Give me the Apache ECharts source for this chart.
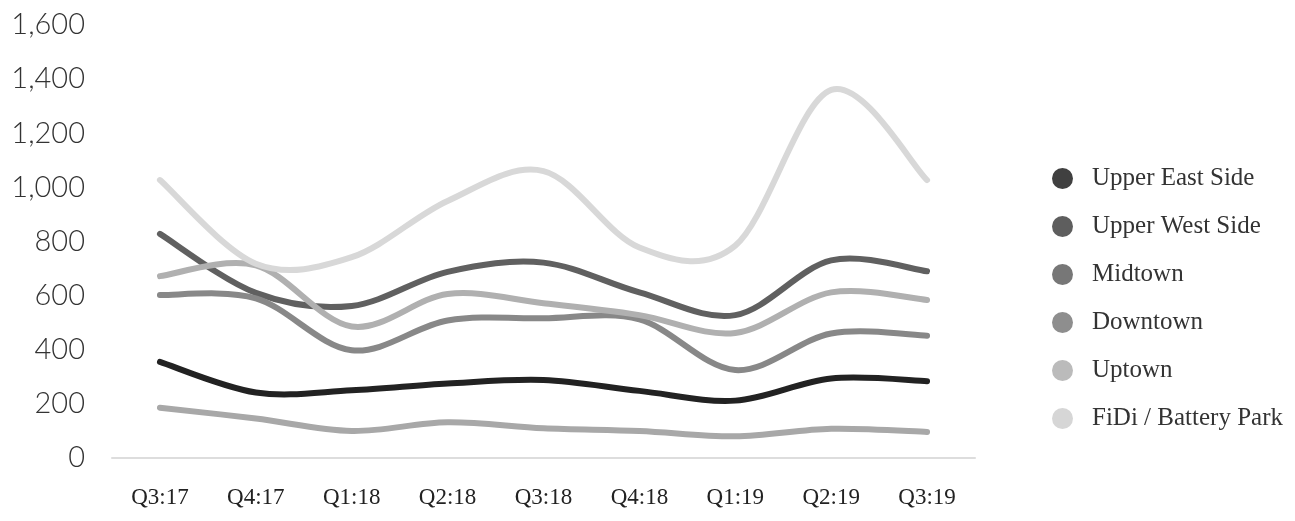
<!DOCTYPE html>
<html>
<head>
<meta charset="utf-8">
<script src="https://cdn.jsdelivr.net/npm/echarts@6/dist/echarts.min.js"></script>
<style>html,body{margin:0;padding:0;background:#fff;}#c{width:1295px;height:521px;}</style>
</head>
<body>
<div id="c"></div>
<script>
const categories = ['Q3:17','Q4:17','Q1:18','Q2:18','Q3:18','Q4:18','Q1:19','Q2:19','Q3:19'];
const seriesNames = ['Upper East Side','Upper West Side','Midtown','Downtown','Uptown','FiDi / Battery Park'];
const upperEastSide = [355, 242, 250, 275, 288, 248, 212, 294, 284];
const upperWestSide = [828, 610, 562, 688, 722, 612, 528, 730, 690];
const midtown = [602, 590, 398, 508, 516, 512, 325, 460, 452];
const downtown = [186, 146, 100, 132, 110, 100, 80, 108, 96];
const uptown = [672, 712, 486, 606, 572, 528, 462, 612, 584];
const fidi = [1027, 718, 742, 950, 1060, 778, 785, 1360, 1027];
const yTicks = [0, 200, 400, 600, 800, 1000, 1200, 1400, 1600];

const values = [upperEastSide, upperWestSide, midtown, downtown, uptown, fidi];
const lineColors = ['#222222', '#606060', '#888888', '#a8a8a8', '#b0b0b0', '#d8d8d8'];
const dotColors = ['#404040', '#5e5e5e', '#777777', '#8e8e8e', '#bbbbbb', '#d6d6d6'];

function splineRenderer(vals, color) {
  return function (params, api) {
    if (params.dataIndex !== 0) return null;
    const pts = vals.map((v, j) => api.coord([j, v]));
    let d = 'M' + pts[0][0] + ',' + pts[0][1];
    for (let k = 0; k < pts.length - 1; k++) {
      const p0 = pts[k - 1] || pts[k], p1 = pts[k], p2 = pts[k + 1], p3 = pts[k + 2] || pts[k + 1];
      const c1x = p1[0] + (p2[0] - p0[0]) / 6, c1y = p1[1] + (p2[1] - p0[1]) / 6;
      const c2x = p2[0] - (p3[0] - p1[0]) / 6, c2y = p2[1] - (p3[1] - p1[1]) / 6;
      d += ' C' + c1x + ',' + c1y + ' ' + c2x + ',' + c2y + ' ' + p2[0] + ',' + p2[1];
    }
    return {
      type: 'path',
      shape: { pathData: d },
      style: { fill: 'none', stroke: color, lineWidth: 6, lineCap: 'round', lineJoin: 'round' }
    };
  };
}

const chart = echarts.init(document.getElementById('c'));
chart.setOption({
  animation: false,
  backgroundColor: '#fff',
  grid: { left: 112, right: 320, top: 25, bottom: 63 },
  legend: {
    orient: 'vertical',
    left: 1052, top: 166,
    padding: 0,
    icon: 'circle',
    itemWidth: 21, itemHeight: 21,
    itemGap: 23,
    textStyle: { fontFamily: 'Liberation Serif, DejaVu Serif, serif', fontSize: 25, color: '#333', padding: [0,0,0,14] },
    data: seriesNames
  },
  xAxis: {
    type: 'category',
    data: categories,
    boundaryGap: true,
    axisLine: { lineStyle: { color: '#dddddd', width: 2 } },
    axisTick: { show: false },
    axisLabel: { margin: 28, fontFamily: 'Liberation Serif, DejaVu Serif, serif', fontSize: 23, color: '#222' }
  },
  yAxis: {
    type: 'value',
    min: yTicks[0], max: yTicks[yTicks.length - 1], interval: 200,
    axisLine: { show: false },
    axisTick: { show: false },
    splitLine: { show: false },
    axisLabel: {
      margin: 27,
      fontFamily: 'Lato, Roboto, sans-serif', fontWeight: 300, fontSize: 29, color: '#333',
      formatter: v => v.toLocaleString('en-US')
    }
  },
  series: seriesNames.map((n, i) => ({
    name: n,
    type: 'custom',
    data: values[i].map((v, j) => [j, v]),
    encode: { x: 0, y: 1 },
    itemStyle: { color: dotColors[i] },
    renderItem: splineRenderer(values[i], lineColors[i])
  }))
});
</script>
</body>
</html>
